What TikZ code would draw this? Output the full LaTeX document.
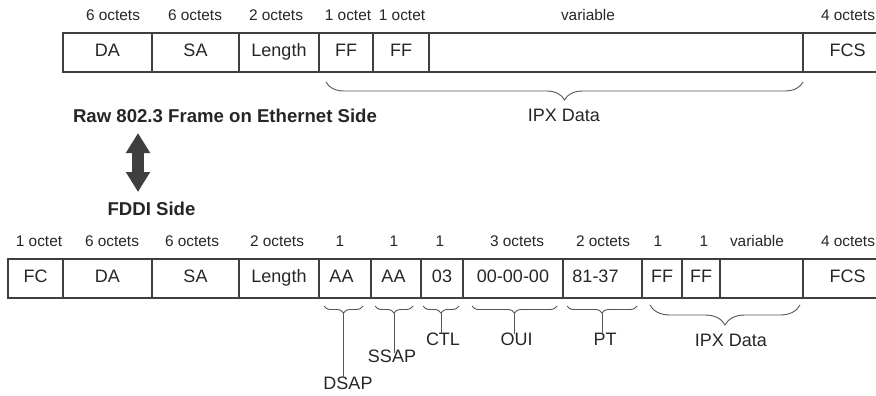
\documentclass[tikz,border=0pt]{standalone}
\usepackage{fontspec}
\setmainfont{Liberation Sans}
\usepackage{xcolor}
\usepackage{tikz}
\usetikzlibrary{positioning, arrows.meta, decorations.pathreplacing}

\definecolor{ink}{HTML}{262626}
\definecolor{rule}{HTML}{3F3F3F}
\definecolor{brk}{HTML}{555555}

\begin{document}
\begin{tikzpicture}[
    x=1pt, y=-1pt,
    every node/.style={font=\fontsize{15.4}{18}\selectfont, text=ink},
    cell/.style={rectangle, draw=rule, line width=1.5pt, minimum width=#1, minimum height=39pt,
                 inner sep=0pt, outer sep=0pt, anchor=west, text height=0.72em, text depth=0pt,
                 font=\fontsize{18}{21}\selectfont},
    octets/.style={inner sep=0pt, text height=0.72em, text depth=0pt},
    sidetitle/.style={inner sep=0pt, text height=0.72em, text depth=0pt,
                      font=\bfseries\fontsize{18.6}{22}\selectfont},
    field/.style={inner sep=4pt, text height=0.72em, text depth=0pt,
                  font=\fontsize{18}{21}\selectfont},
    brc/.style={decorate, decoration={brace, mirror, amplitude=#1}, draw=brk, line width=0.9pt},
    lead/.style={draw=brk, line width=0.9pt},
    swaparr/.style={draw=rule, line width=12pt,
                    {Triangle[width=23pt, length=20pt]}-{Triangle[width=23pt, length=20pt]}},
]
    \useasboundingbox (0,0) rectangle (876,396);

    % --- Ethernet side: raw 802.3 frame ---
    \node[cell=89pt] (tda) at (63, 52.5) {DA};
    \node[cell=87pt, right=0pt of tda] (tsa) {SA};
    \node[cell=80pt, right=0pt of tsa] (tlen) {Length};
    \node[cell=54pt, right=0pt of tlen] (tffa) {FF};
    \node[cell=56pt, right=0pt of tffa] (tffb) {FF};
    \node[cell=374pt, right=0pt of tffb] (tdat) {};
    \node[cell=89pt, right=0pt of tdat] (tfcs) {FCS};

    % field sizes above the top frame
    \node[octets] (stda) at (113, 17) {6 octets};
    \node[octets] (stsa) at (195, 17) {6 octets};
    \node[octets] (stlen) at (276, 17) {2 octets};
    \node[octets] (stffa) at (348, 17) {1 octet};
    \node[octets] (stffb) at (402, 17) {1 octet};
    \node[octets] (stdat) at (588, 17) {variable};
    \node[octets] (stfcs) at (848, 17) {4 octets};

    % IPX data brace under the top frame
    \draw[brc=18pt] (326, 82) -- (803, 82);
    \node[field, inner sep=0pt] (tipx) at (564, 117.5) {IPX Data};

    % --- side titles and the swap arrow ---
    \node[sidetitle] (raw) at (225, 119) {Raw 802.3 Frame on Ethernet Side};
    \node[sidetitle] (fddi) at (151.5, 212) {FDDI Side};
    \coordinate (swapup) at (138, 133);
    \coordinate (swapdn) at (138, 192);
    \draw[swaparr] (swapup) -- (swapdn);

    % --- FDDI side frame ---
    \node[cell=55pt] (bfc) at (8, 278.5) {FC};
    \node[cell=89pt, right=0pt of bfc] (bda) {DA};
    \node[cell=87pt, right=0pt of bda] (bsa) {SA};
    \node[cell=80pt, right=0pt of bsa] (blen) {Length};
    \node[cell=52pt, right=0pt of blen] (bdsap) {AA\hspace*{7pt}};
    \node[cell=50pt, right=0pt of bdsap] (bssap) {AA\hspace*{5pt}};
    \node[cell=42pt, right=0pt of bssap] (bctl) {03};
    \node[cell=100pt, right=0pt of bctl] (boui) {00-00-00};
    \node[cell=79pt, right=0pt of boui] (bpt) {81-37\hspace*{14pt}};
    \node[cell=40pt, right=0pt of bpt] (bffa) {FF};
    \node[cell=38pt, right=0pt of bffa] (bffb) {FF};
    \node[cell=83pt, right=0pt of bffb] (bdat) {};
    \node[cell=89pt, right=0pt of bdat] (bfcs) {FCS};

    % field sizes above the bottom frame
    \node[octets] (sbfc) at (39, 242.5) {1 octet};
    \node[octets] (sbda) at (112, 242.5) {6 octets};
    \node[octets] (sbsa) at (192, 242.5) {6 octets};
    \node[octets] (sblen) at (277, 242.5) {2 octets};
    \node[octets] (sbdsap) at (340, 242.5) {1};
    \node[octets] (sbssap) at (394, 242.5) {1};
    \node[octets] (sbctl) at (440, 242.5) {1};
    \node[octets] (sboui) at (517, 242.5) {3 octets};
    \node[octets] (sbpt) at (603, 242.5) {2 octets};
    \node[octets] (sbffa) at (658, 242.5) {1};
    \node[octets] (sbffb) at (704, 242.5) {1};
    \node[octets] (sbdat) at (757, 242.5) {variable};
    \node[octets] (sbfcs) at (848, 242.5) {4 octets};

    % SNAP header braces and their names
    \draw[brc=7pt] (324, 306) -- (363, 306);
    \draw[brc=7pt] (375, 306) -- (413, 306);
    \draw[brc=7pt] (423, 306) -- (459, 306);
    \draw[brc=7pt] (472, 306) -- (557, 306);
    \draw[brc=7pt] (567, 306) -- (637, 306);
    \draw[brc=20pt] (650, 305) -- (800, 305);

    \coordinate (dsaptip) at (343.5, 313);
    \coordinate (ssaptip) at (394, 313);
    \coordinate (ctltip) at (441, 313);
    \coordinate (ouitip) at (514.5, 313);
    \coordinate (pttip) at (602, 313);

    \node[field] (dsap) at (348, 386) {DSAP};
    \node[field, inner sep=2pt] (ssap) at (392, 358.5) {SSAP};
    \node[field] (ctl) at (443, 341.5) {CTL};
    \node[field] (oui) at (516.5, 341.5) {OUI};
    \node[field] (pt) at (605, 341.5) {PT};
    \node[field] (bipx) at (731, 342.5) {IPX Data};

    % leaders from brace tips down to the names
    \draw[lead] (dsaptip) -- (dsaptip |- dsap.north);
    \draw[lead] (ssaptip) -- (ssaptip |- ssap.north);
    \draw[lead] (ctltip) -- (ctltip |- ctl.north);
    \draw[lead] (ouitip) -- (ouitip |- oui.north);
    \draw[lead] (pttip) -- (pttip |- pt.north);
\end{tikzpicture}
\end{document}
